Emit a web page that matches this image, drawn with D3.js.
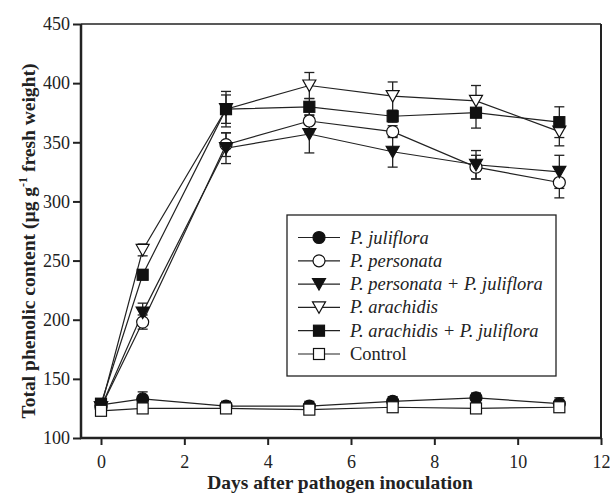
<!DOCTYPE html>
<html lang="en">
<head>
    <meta charset="UTF-8">
    <title>Total phenolic content</title>
    <script src="https://d3js.org/d3.v7.min.js"></script>
    <style>
        body { margin: 0; background: #fff; }
        text { font-family: "Liberation Serif", "Times New Roman", "DejaVu Serif", serif !important; }
        .tick text { font-size: 18px; fill: #222; }
        .axis-title { font-size: 19.5px; font-weight: bold; fill: #222; }
        .legend-text { font-size: 18.5px; fill: #222; }
    </style>
</head>
<body>
    <svg id="chart" width="610" height="495"></svg>

    <script>
        // days after inoculation
        const days = [0, 1, 3, 5, 7, 9, 11];

        const juliflora      = [128, 133, 127, 127, 131, 134, 129];
        const julifloraErr   = [4, 6, 4, 4, 4, 4, 5];
        const personata      = [126, 198, 348, 368, 359, 329, 316];
        const personataErr   = [4, 6, 10, 10, 5, 10, 13];
        const persJul        = [126, 206, 345, 357, 342, 331, 325];
        const persJulErr     = [4, 8, 13, 16, 13, 12, 14];
        const arachidis      = [126, 259, 378, 398, 389, 385, 359];
        const arachidisErr   = [4, 5, 15, 11, 12, 13, 12];
        const arachJul       = [129, 238, 378, 380, 372, 375, 367];
        const arachJulErr    = [4, 4, 12, 7, 5, 13, 13];
        const control        = [123, 125, 125, 124, 126, 125, 126];
        const controlErr     = [3, 3, 3, 3, 3, 3, 3];

        const seriesNames = ["P. juliflora", "P. personata", "P. personata + P. juliflora",
                             "P. arachidis", "P. arachidis + P. juliflora", "Control"];
        const yTicks = [100, 150, 200, 250, 300, 350, 400, 450];
        const xTicks = [0, 2, 4, 6, 8, 10, 12];

        const series = [
          { name: seriesNames[0], values: juliflora, err: julifloraErr, shape: "circle", fill: "#111" },
          { name: seriesNames[1], values: personata, err: personataErr, shape: "circle", fill: "#fff" },
          { name: seriesNames[2], values: persJul, err: persJulErr, shape: "tri", fill: "#111" },
          { name: seriesNames[3], values: arachidis, err: arachidisErr, shape: "tri", fill: "#fff" },
          { name: seriesNames[4], values: arachJul, err: arachJulErr, shape: "square", fill: "#111" },
          { name: seriesNames[5], values: control, err: controlErr, shape: "square", fill: "#fff" }
        ];

        const plotL = 81, plotR = 601, plotT = 24, plotB = 438;
        const svg = d3.select("#chart");

        const x = d3.scaleLinear().domain([-0.48, 12]).range([plotL, plotR]);
        const y = d3.scaleLinear().domain([100, 450]).range([plotB, plotT]);

        // frame: top and right
        svg.append("line").attr("x1", plotL).attr("x2", plotR).attr("y1", plotT).attr("y2", plotT)
          .attr("stroke", "#222").attr("stroke-width", 1.5);
        svg.append("line").attr("x1", plotR).attr("x2", plotR).attr("y1", plotT).attr("y2", plotB)
          .attr("stroke", "#222").attr("stroke-width", 2);

        const yAxis = svg.append("g")
          .attr("transform", `translate(${plotL},0)`)
          .call(d3.axisLeft(y).tickValues(yTicks).tickSize(8).tickPadding(3));
        const xAxis = svg.append("g")
          .attr("transform", `translate(0,${plotB})`)
          .call(d3.axisBottom(x).tickValues(xTicks).tickSize(7).tickPadding(10));

        [yAxis, xAxis].forEach(g => {
          g.attr("font-family", null).attr("font-size", null);
          g.select(".domain").attr("stroke", "#222").attr("stroke-width", 2.5);
          g.selectAll(".tick line").attr("stroke", "#222").attr("stroke-width", 2);
        });
        yAxis.select(".domain").attr("d", `M0,${plotB + 1}V${plotT}`);
        xAxis.select(".domain").attr("d", `M${plotL - 1},0H${plotR}`);

        // axis titles
        svg.append("text")
          .attr("class", "axis-title")
          .attr("x", 340).attr("y", 489)
          .attr("text-anchor", "middle")
          .text("Days after pathogen inoculation");

        const yt = svg.append("text")
          .attr("class", "axis-title")
          .attr("transform", "translate(35,241) rotate(-90)")
          .attr("text-anchor", "middle");
        yt.append("tspan").text("Total phenolic content (\u00b5g g");
        yt.append("tspan").attr("font-size", 12).attr("dy", -8).text("-1");
        yt.append("tspan").attr("dy", 8).text(" fresh weight)");

        function drawMarker(g, shape, fill) {
          if (shape === "circle") {
            g.append("circle").attr("r", 6);
          } else if (shape === "tri") {
            g.append("path").attr("d", "M-6.5,-5.5L6.5,-5.5L0,6Z");
          } else {
            g.append("rect").attr("x", -5.5).attr("y", -5.5).attr("width", 11).attr("height", 11);
          }
          g.selectAll("*").attr("fill", fill).attr("stroke", "#111").attr("stroke-width", 1.2);
        }

        const line = d3.line().x((d, i) => x(days[i])).y(d => y(d));

        series.forEach(s => {
          const g = svg.append("g");
          // error bars
          s.values.forEach((v, i) => {
            const cx = x(days[i]);
            const hi = y(v + s.err[i]), lo = y(v - s.err[i]);
            g.append("line").attr("x1", cx).attr("x2", cx).attr("y1", hi).attr("y2", lo)
              .attr("stroke", "#222").attr("stroke-width", 1.3);
            [hi, lo].forEach(yy => g.append("line")
              .attr("x1", cx - 5).attr("x2", cx + 5).attr("y1", yy).attr("y2", yy)
              .attr("stroke", "#222").attr("stroke-width", 1.3));
          });
          g.append("path").datum(s.values)
            .attr("d", line).attr("fill", "none")
            .attr("stroke", "#222").attr("stroke-width", 1.2);
        });

        series.forEach(s => {
          s.values.forEach((v, i) => {
            const m = svg.append("g").attr("transform", `translate(${x(days[i])},${y(v)})`);
            drawMarker(m, s.shape, s.fill);
          });
        });

        // legend
        const lg = svg.append("g");
        lg.append("rect").attr("x", 287).attr("y", 215).attr("width", 269).attr("height", 161)
          .attr("fill", "#fff").attr("stroke", "#222").attr("stroke-width", 1.3);
        series.forEach((s, i) => {
          const yy = 237.5 + i * 23.3;
          lg.append("line").attr("x1", 298).attr("x2", 340).attr("y1", yy).attr("y2", yy)
            .attr("stroke", "#222").attr("stroke-width", 1.2);
          drawMarker(lg.append("g").attr("transform", `translate(319,${yy})`), s.shape, s.fill);
          const t = lg.append("text").attr("class", "legend-text")
            .attr("x", 350).attr("y", yy + 6);
          if (s.name === "Control") {
            t.text(s.name);
          } else {
            t.attr("font-style", "italic").text(s.name);
          }
        });
    </script>
</body>
</html>
